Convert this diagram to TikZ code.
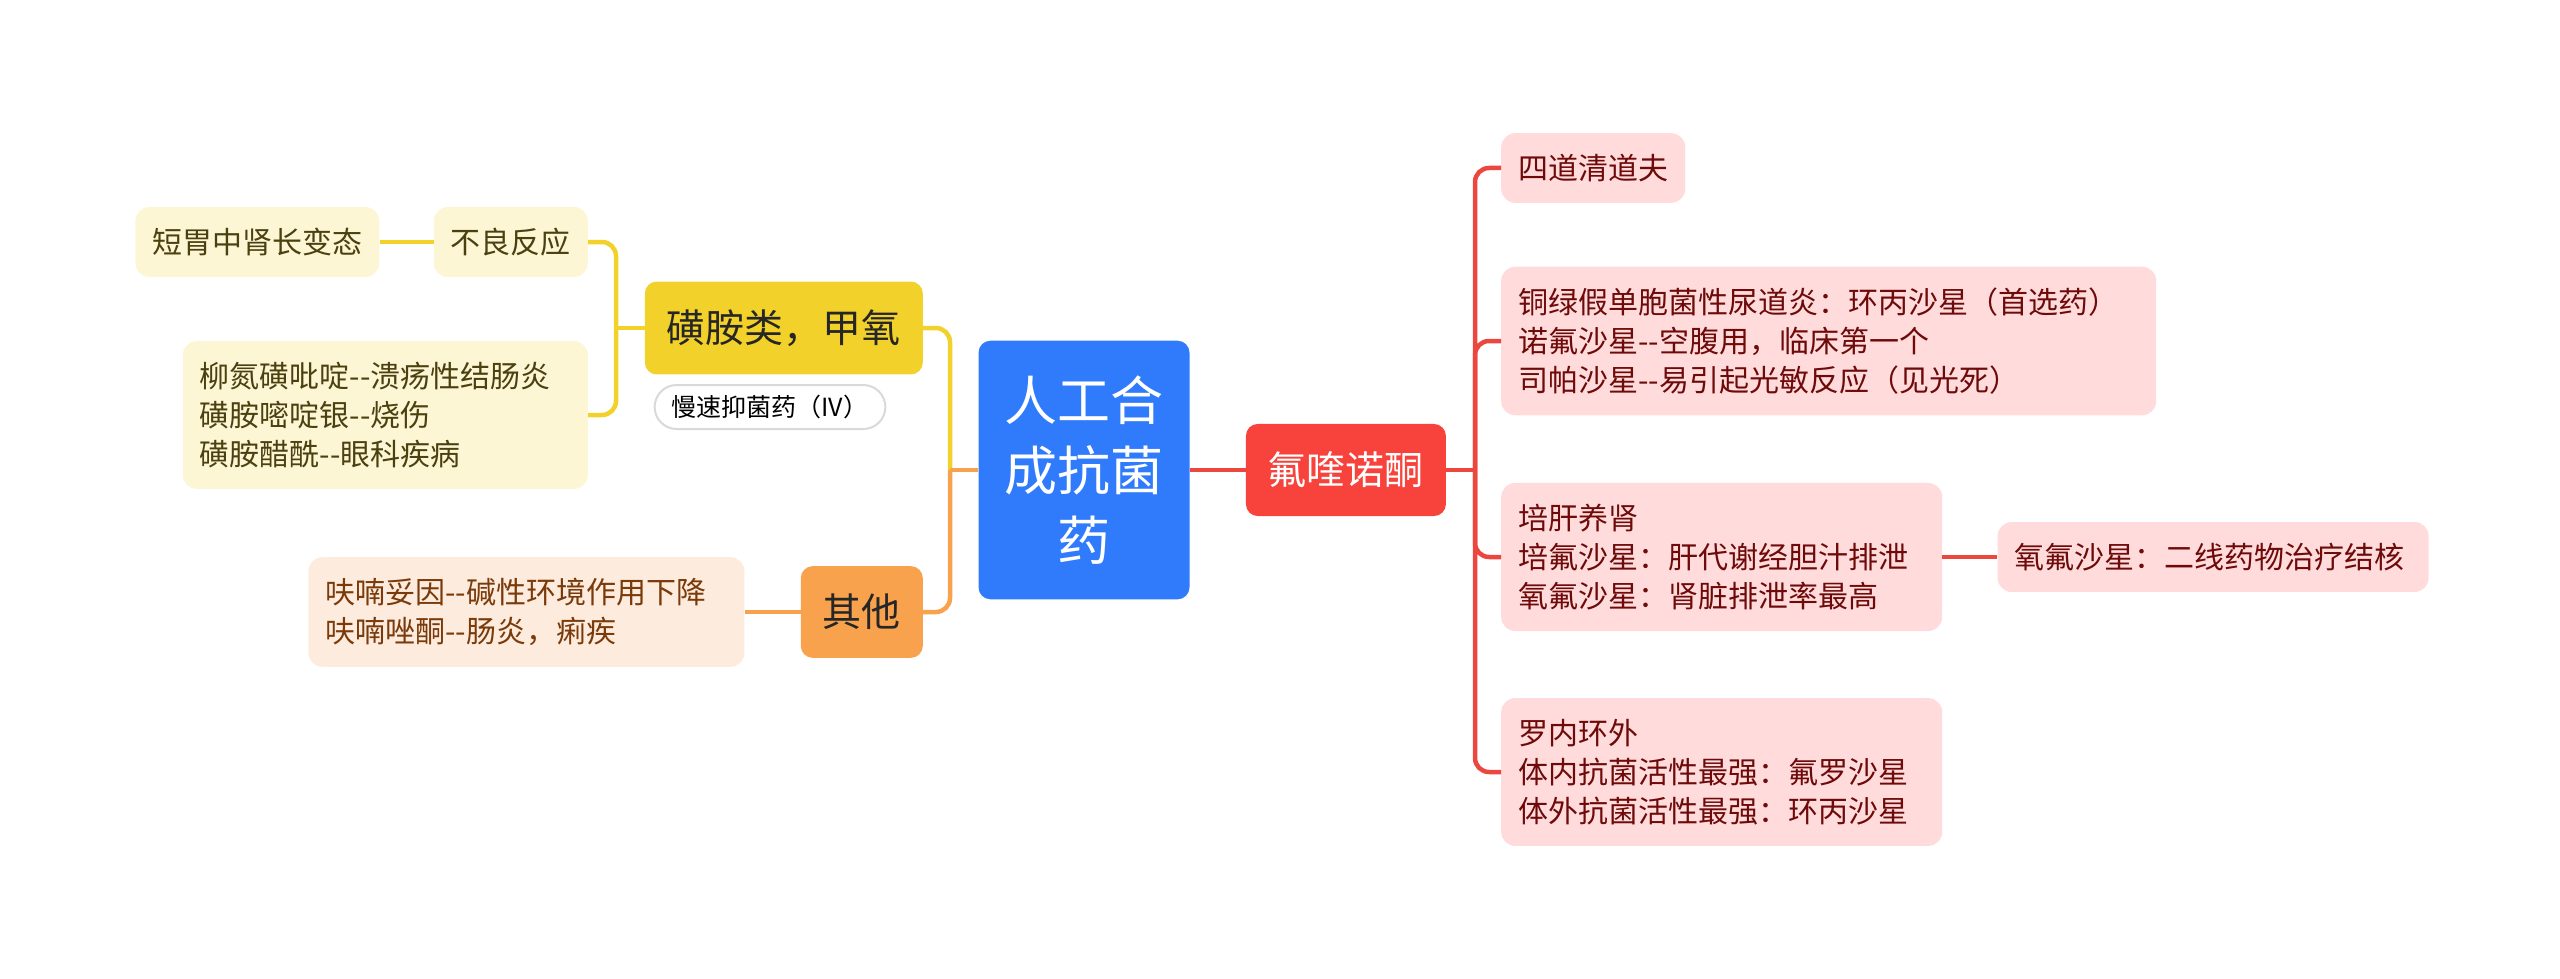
\documentclass[tikz,border=0pt]{standalone}
\usepackage{fontspec}
\setmainfont{Noto Sans CJK SC}[Ligatures=TeXOff]
\usepackage{xcolor}
\usetikzlibrary{positioning}

\definecolor{rootblue}{HTML}{2F7BFB}
\definecolor{redmain}{HTML}{F7433B}
\definecolor{redline}{HTML}{EC473E}
\definecolor{redsoft}{HTML}{FFDBDB}
\definecolor{redtext}{HTML}{6E0A0A}
\definecolor{yelmain}{HTML}{F2D12A}
\definecolor{yelsoft}{HTML}{FDF6D4}
\definecolor{yeltext}{HTML}{4A4010}
\definecolor{ornmain}{HTML}{F8A24E}
\definecolor{ornsoft}{HTML}{FDEBDD}
\definecolor{orntext}{HTML}{7A3A0A}

\begin{document}
\begin{tikzpicture}[x=1pt, y=-1pt]

        \useasboundingbox (0,0) rectangle (2560,979);

        % Looks of the boxes, one style per colour of branch
        \tikzset{
            root/.style={fill=rootblue, text=white, rounded corners=12pt,
                align=center, inner xsep=26pt, inner ysep=35pt,
                font=\fontsize{53}{70}\selectfont},
            branch/.style={rounded corners=12pt, inner xsep=22pt,
                inner ysep=28pt, font=\fontsize{39}{47}\selectfont},
            leaf/.style={rounded corners=14pt, inner xsep=17pt,
                inner ysep=21pt, align=left,
                font=\fontsize{30}{39}\selectfont},
            ybranch/.style={branch, fill=yelmain, text=black!85},
            obranch/.style={branch, fill=ornmain, text=black!85},
            rbranch/.style={branch, fill=redmain, text=white},
            yleaf/.style={leaf, fill=yelsoft, text=yeltext},
            oleaf/.style={leaf, fill=ornsoft, text=orntext},
            pleaf/.style={leaf, fill=redsoft, text=redtext},
            tag/.style={draw=black!15, line width=2pt, fill=white,
                rounded corners=22pt, inner xsep=17pt,
                minimum height=44pt, font=\fontsize{25}{30}\selectfont},
            yline/.style={draw=yelmain},
            oline/.style={draw=ornmain},
            rline/.style={draw=redline}
        }

        % Centre and the three main branches
        \node[root] (C1) at (1084,470) {人工合\\成抗菌\\药};
        \node[rbranch, right=56pt of C1] (R1) {氟喹诺酮};
        \node[ybranch, anchor=east] (L1) at (923,328) {磺胺类，甲氧};
        \node[obranch, anchor=east] (L2) at (923,612) {其他};
        \node[tag] (T1) at (770,407) {慢速抑菌药（IV）};

        % Left side
        \node[yleaf, anchor=east] (Y1) at (588,242) {不良反应};
        \node[yleaf, left=54pt of Y1] (Y2) {短胃中肾长变态};
        \node[yleaf, anchor=east, text width=371pt] (Y3) at (588,415)
        {柳氮磺吡啶--溃疡性结肠炎\\磺胺嘧啶银--烧伤\\磺胺醋酰--眼科疾病};
        \node[oleaf, left=56pt of L2, text width=402pt] (O1)
        {呋喃妥因--碱性环境作用下降\\呋喃唑酮--肠炎，痢疾};

        % Right side
        \node[pleaf, anchor=west] (P1) at (1501,168) {四道清道夫};
        \node[pleaf, anchor=west, text width=621pt] (P2) at (1501,341)
        {铜绿假单胞菌性尿道炎：环丙沙星（首选药）\\诺氟沙星--空腹用，临床第一个\\司帕沙星--易引起光敏反应（见光死）};
        \node[pleaf, anchor=west, text width=407pt] (P3) at (1501,557)
        {培肝养肾\\培氟沙星：肝代谢经胆汁排泄\\氧氟沙星：肾脏排泄率最高};
        \node[pleaf, anchor=west, text width=407pt] (P4) at (1501,772)
        {罗内环外\\体内抗菌活性最强：氟罗沙星\\体外抗菌活性最强：环丙沙星};
        \node[pleaf, right=55pt of P3, text width=397pt] (P5)
        {氧氟沙星：二线药物治疗结核};

        \coordinate (JL) at (950,470);
        \coordinate (JY) at (616,328);
        \coordinate (JR) at (1475,470);

        \begin{scope}[line width=4.5pt, rounded corners=14pt]
            \draw[yline] (L1.east) -| (JL);
            \draw[yline] (L1.west) -- (JY);
            \draw[yline] (JY) |- (Y1.east);
            \draw[yline] (JY) |- (Y3.east);
            \draw[yline] (Y2.east) -- (Y1.west);

            \draw[oline] (L2.east) -| (JL);
            \draw[oline] (C1.west) -- (JL);
            \draw[oline] (O1.east) -- (L2.west);

            \draw[rline] (C1.east) -- (R1.west);
            \draw[rline] (R1.east) -- (JR);
            \foreach\x in {1,...,4}
            \draw[rline] (JR) |- (P\x.west);
            \draw[rline] (P3.east) -- (P5.west);
        \end{scope}

\end{tikzpicture}
\end{document}
